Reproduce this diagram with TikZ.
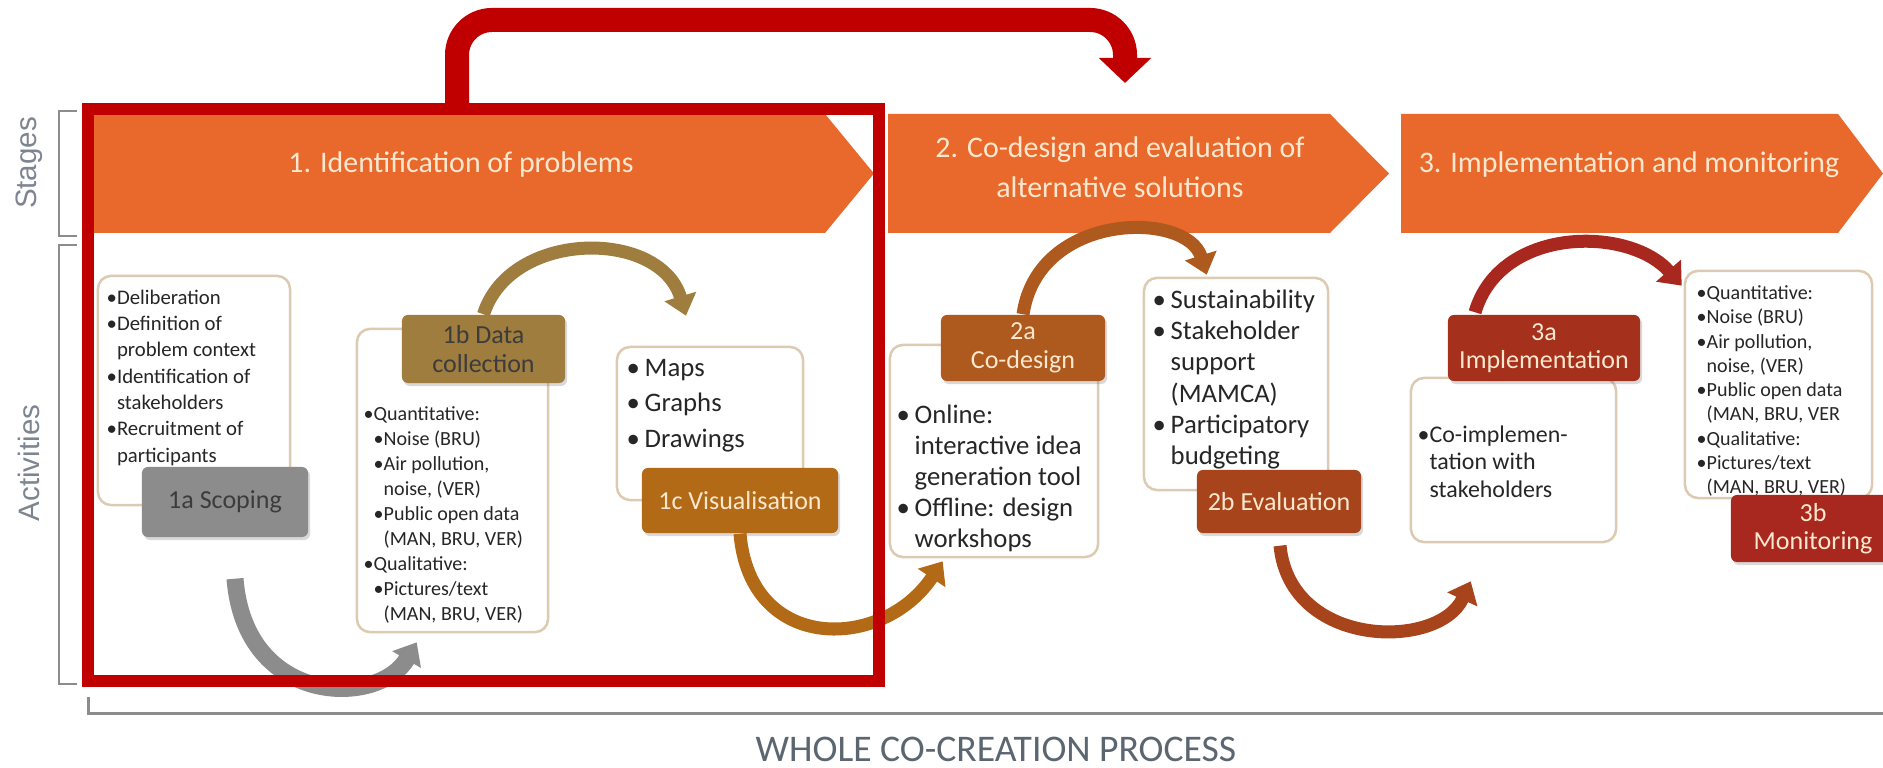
\documentclass[tikz,border=0pt]{standalone}
\usepackage{fontspec}
\setmainfont{Carlito}
\newfontfamily\arialfont{Liberation Sans}
\usepackage{tikz}
\usetikzlibrary{arrows.meta}
\usetikzlibrary{calc}
\usetikzlibrary{shadows}

\definecolor{stageorange}{HTML}{E8692B}
\definecolor{framered}{HTML}{C00000}
\definecolor{boxline}{HTML}{DCCAB3}
\definecolor{itemgray}{HTML}{262626}
\definecolor{labelgray}{HTML}{7D8591}
\definecolor{bottomgray}{HTML}{5B6670}
\definecolor{bracketgray}{HTML}{8C8C8C}
\definecolor{cream}{HTML}{FDE8CF}
\definecolor{scopegray}{HTML}{8C8C8C}
\definecolor{datacol}{HTML}{9E7D3E}
\definecolor{viscol}{HTML}{B36A16}
\definecolor{codescol}{HTML}{AE591E}
\definecolor{evalcol}{HTML}{A8441B}
\definecolor{implcol}{HTML}{A5301B}
\definecolor{monicol}{HTML}{A8281F}

\tikzset{
	listbox/.style={draw=boxline, fill=white, line width=0.025cm, rounded corners=0.13cm, inner sep=0},
	titlebox/.style={rounded corners=0.06cm, inner sep=0, align=center, text=cream,
		font=\fontsize{7.4}{8.1}\selectfont,
		drop shadow={shadow xshift=0.02cm, shadow yshift=-0.03cm, opacity=0.3}},
	listtext/.style={anchor=north west, inner sep=0, align=left, text=itemgray},
	stagetext/.style={align=center, text=cream, font=\fontsize{8.5}{11.4}\selectfont},
	curvearrow/.style={line width=0.13cm, -{Triangle[width=0.32cm,length=0.2cm]}},
	bracketline/.style={draw=bracketgray, line width=0.025cm},
}

\newcommand{\bul}{\makebox[0.18cm][l]{•}}
\newcommand{\ind}{\hspace*{0.18cm}}

\begin{document}
\begin{tikzpicture}[x=0.01cm,y=0.01cm]

	\useasboundingbox (0,0) rectangle (1883,768);

	% stages
	\fill[stageorange] (92,654) -- (825,654) -- (874,594.5) -- (825,535) -- (92,535) -- cycle;
	\fill[stageorange] (888,654) -- (1330,654) -- (1389,594.5) -- (1330,535) -- (888,535) -- cycle;
	\fill[stageorange] (1401,654) -- (1838,654) -- (1883,594.5) -- (1838,535) -- (1401,535) -- cycle;
	\node[stagetext] (stage1) at (461,603) {1. Identification of problems};
	\node[stagetext] (stage2) at (1120,601) {2. Co-design and evaluation of\\alternative solutions};
	\node[stagetext] (stage3) at (1629,603) {3. Implementation and monitoring};

	% brackets and labels on the left
	\draw[bracketline] (77,657) -- (59,657) -- (59,532) -- (77,532); %stages
	\draw[bracketline] (77,523) -- (59,523) -- (59,84) -- (77,84); %activities
	\draw[bracketline, line width=0.03cm] (88,71) -- (88,54) -- (1883,54); %whole process
	\node[rotate=90, text=labelgray, font=\arialfont\fontsize{8.4}{10}\selectfont] (stageslbl) at (29,605) {Stages};
	\node[rotate=90, text=labelgray, font=\arialfont\fontsize{8.4}{10}\selectfont] (activlbl) at (29,305) {Activities};
	\node[anchor=base, inner sep=0, text=bottomgray, font=\fontsize{10.7}{13}\selectfont] (whole) at (996,6) {WHOLE CO-CREATION PROCESS};

	% stage 1
	\node[listbox, minimum width=1.92cm, minimum height=2.29cm] (box1a) at (194,377.5) {};
	\node[listtext, font=\fontsize{5.9}{7.5}\selectfont] (txt1a) at (106,479)
		{•Deliberation\\•Definition of\\\hphantom{•}problem context\\•Identification of\\\hphantom{•}stakeholders\\•Recruitment of\\\hphantom{•}participants};
	\node[titlebox, fill=scopegray, text=itemgray!90, minimum width=1.66cm, minimum height=0.70cm] (scope) at (225,266) {1a Scoping};

	\node[listbox, minimum width=1.91cm, minimum height=3.03cm] (box1b) at (452.5,287.5) {};
	\node[listtext, font=\fontsize{5.7}{7.1}\selectfont] (txt1b) at (363,362)
		{•Quantitative:\\
		\hspace*{0.1cm}•Noise (BRU)\\
		\hspace*{0.1cm}•Air pollution,\\
		\hspace*{0.1cm}\hphantom{•}noise, (VER)\\
		\hspace*{0.1cm}•Public open data\\
		\hspace*{0.1cm}\hphantom{•}(MAN, BRU, VER)\\
		•Qualitative:\\
		\hspace*{0.1cm}•Pictures/text\\
		\hspace*{0.1cm}\hphantom{•}(MAN, BRU, VER)};
	\node[titlebox, fill=datacol, text=itemgray!90, minimum width=1.63cm, minimum height=0.68cm] (dat) at (483.5,419) {1b Data\\collection};

	\node[listbox, minimum width=1.86cm, minimum height=1.53cm] (box1c) at (710,344.5) {};
	\node[listtext, font=\fontsize{7.6}{10}\selectfont] (txt1c) at (626,409)
		{\bul Maps\\\bul Graphs\\\bul Drawings};
	\node[titlebox, fill=viscol, minimum width=1.96cm, minimum height=0.65cm] (vis) at (740,267.5) {1c Visualisation};

	% stage 2
	\node[listbox, minimum width=2.08cm, minimum height=2.12cm] (box2a) at (994,317) {};
	\node[listtext, font=\fontsize{7.6}{8.8}\selectfont] (txt2a) at (896,364)
		{\bul Online:\\\ind interactive idea\\\ind generation tool\\\bul Offline: design\\\ind workshops};
	\node[titlebox, fill=codescol, minimum width=1.64cm, minimum height=0.66cm] (codes) at (1023,420) {2a\\Co-design};

	\node[listbox, minimum width=1.84cm, minimum height=2.12cm] (box2b) at (1236,384) {};
	\node[listtext, font=\fontsize{7.6}{8.9}\selectfont] (txt2b) at (1152,479)
		{\bul Sustainability\\\bul Stakeholder\\\ind support\\\ind (MAMCA)\\\bul Participatory\\\ind budgeting};
	\node[titlebox, fill=evalcol, minimum width=1.64cm, minimum height=0.63cm] (eval) at (1279,266.5) {2b Evaluation};

	% stage 3
	\node[listbox, minimum width=2.05cm, minimum height=1.64cm] (box3a) at (1513.5,308) {};
	\node[listtext, font=\fontsize{6.8}{7.8}\selectfont] (txt3a) at (1417,343)
		{•Co-implemen-\\\hphantom{•}tation with\\\hphantom{•}stakeholders};
	\node[titlebox, fill=implcol, minimum width=1.92cm, minimum height=0.66cm] (impl) at (1544,420) {3a\\Implementation};

	\node[listbox, minimum width=1.87cm, minimum height=2.27cm] (box3b) at (1778.5,383.5) {};
	\node[listtext, font=\fontsize{5.7}{6.9}\selectfont] (txt3b) at (1696,483)
		{•Quantitative:\\•Noise (BRU)\\•Air pollution,\\\hphantom{•}noise, (VER)\\•Public open data\\\hphantom{•}(MAN, BRU, VER\\•Qualitative:\\•Pictures/text\\\hphantom{•}(MAN, BRU, VER)};
	\node[titlebox, fill=monicol, minimum width=1.64cm, minimum height=0.67cm] (moni) at (1813,239.5) {3b\\Monitoring};

	% curved arrows between activities
	\draw[curvearrow, draw=scopegray, line width=0.17cm] ($(scope.south)+(10,-41)$) .. controls +(10,-128) and +(-38,-65) .. ($(box1b.south west)+(61,-9)$);
	\draw[curvearrow, draw=datacol] (dat.north) .. controls +(27,85) and +(-26,87) .. ($(box1c.north)+(-24,30)$);
	\draw[curvearrow, draw=viscol] (vis.south) .. controls +(10,-120) and +(-60,-90) .. ($(box2a.south west)+(54,-3)$);
	\draw[curvearrow, draw=codescol] (codes.north) .. controls +(15,103) and +(-20,64) .. ($(box2b.north west)+(64,2)$);
	\draw[curvearrow, draw=evalcol] ($(eval.south)+(1,-12)$) .. controls +(10,-103) and +(-32,-69) .. ($(box3a.south west)+(61,-38)$);
	\draw[curvearrow, draw=monicol] ($(impl.north)+(-69,2)$) .. controls +(25,86) and +(-53,60) .. ($(box3b.north west)+(-2,-16)$);

	% red frame round stage 1 and the jump to stage 2
	\node[draw=framered, line width=0.12cm, minimum width=7.91cm, minimum height=5.72cm, inner sep=0] (focus) at (483.5,373) {};
	\coordinate (jump) at (1125,685);
	\draw[framered, line width=0.24cm, rounded corners=0.35cm, -{Triangle[width=0.51cm,length=0.25cm]}] ($(focus.north)+(-26.5,0)$) |- (1125,748) -- (jump);

\end{tikzpicture}
\end{document}
